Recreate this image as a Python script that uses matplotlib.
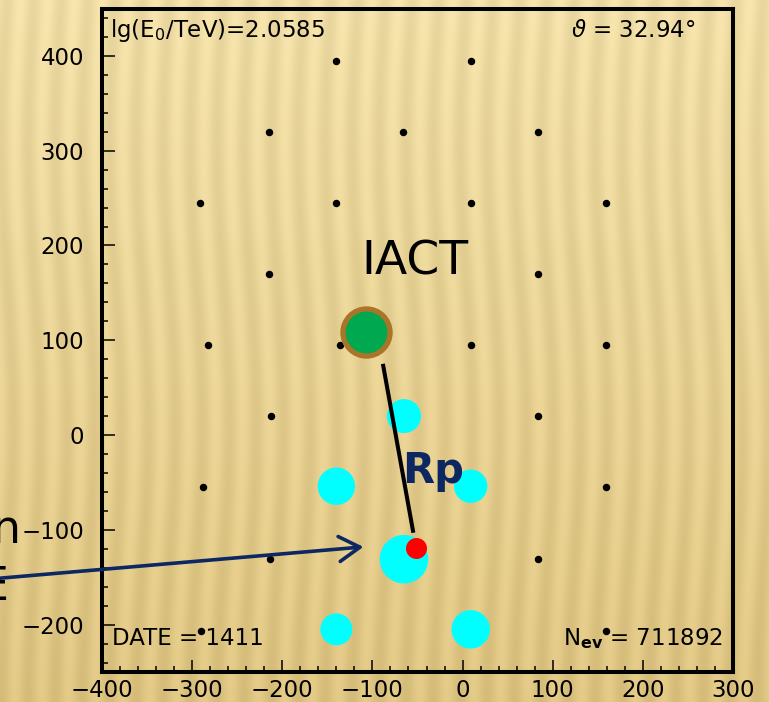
import numpy as np
import matplotlib
matplotlib.use("Agg")
import matplotlib.pyplot as plt

# detector stations (small black dots), x/y in m
det_x = [-140, 9,
         -215, -66, 84,
         -291, -140, 9, 159,
         -215, 84,
         -282, -136, 9, 159,
         -212, 84,
         -288, 159,
         -214, 84,
         -290, 159]
det_y = [395, 395,
         320, 320, 320,
         245, 245, 245, 245,
         170, 170,
         95, 95, 95, 95,
         20, 20,
         -55, -55,
         -131, -131,
         -207, -207]

# fired stations (cyan), marker radius ~ signal
hit_x = [-65, -140, 9, -65, -140, 9]
hit_y = [20, -54, -54, -131, -205, -205]
hit_sig = [17, 18.7, 16.7, 24.3, 16, 19.2]

core_x, core_y = [-52], [-119]        # reconstructed core (red)
iact_x, iact_y = [-107], [109]        # IACT position (green)
rp_x = [-88, -55]                     # Rp segment
rp_y = [73, -101]

lg_e0 = 2.0585
theta = 32.94
date = 1411
n_ev = 711892

W, H, DPI = 769, 702, 100
fig = plt.figure(figsize=(W / DPI, H / DPI), dpi=DPI)

# slide background: warm gold gradient with soft vertical stripes
bg = fig.add_axes([0, 0, 1, 1])
yy, xx = np.mgrid[0:H, 0:W]
top = np.array([244, 226, 170]) / 255
bot = np.array([225, 199, 132]) / 255
t = (yy / H)[..., None]
img = top * (1 - t) + bot * t
stripe = 0.03 * np.sin(2 * np.pi * (xx + 6 * np.sin(yy / 90)) / 27.0)
img = np.clip(img - stripe[..., None] - 0.015, 0, 1)
bg.imshow(img, aspect="auto", extent=[0, 1, 0, 1])
bg.axis("off")

ax = fig.add_axes([102 / W, 1 - 672 / H, 631 / W, 663.5 / H])
ax.patch.set_alpha(0)
ax.set_xlim(-400, 300)
ax.set_ylim(-250, 450)

for sp in ax.spines.values():
    sp.set_linewidth(2.9)
ax.set_xticks(np.arange(-400, 301, 100))
ax.set_yticks(np.arange(-200, 401, 100))
ax.set_xticks(np.arange(-400, 301, 20), minor=True)
ax.set_yticks(np.arange(-240, 451, 20), minor=True)
ax.tick_params(which="both", direction="in", top=False, right=False, width=1.1)
ax.tick_params(which="major", length=9, labelsize=16.5)
ax.tick_params(which="minor", length=4.5)
ax.tick_params(axis="y", which="major", pad=13)
ax.tick_params(axis="x", which="major", pad=5)

navy = "#0c2762"

ax.scatter(det_x, det_y, s=19, color="black", zorder=2)
ax.scatter(hit_x, hit_y, s=[(1.44 * r) ** 2 for r in hit_sig],
           color="#00ffff", linewidths=0, zorder=3)
ax.plot(rp_x, rp_y, color="black", lw=2.9, zorder=4)
ax.scatter(core_x, core_y, s=(1.44 * 10.5) ** 2, color="#ff0000",
           linewidths=0, zorder=5)
ax.scatter(iact_x, iact_y, s=1150, color="#00a84f", edgecolors="#aa7528",
           linewidths=3.8, zorder=5)

ax.text(-53, 169, "IACT", fontsize=34, ha="center", va="baseline", zorder=6)
ax.text(-67, -51, "Rp", fontsize=30, fontweight="bold", color=navy,
        ha="left", va="baseline", zorder=6)

ax.annotate("", xy=(-110, -118), xytext=(-525, -152),
            arrowprops=dict(arrowstyle="->,head_length=0.5,head_width=0.3",
                            color=navy, lw=2.6, mutation_scale=30,
                            shrinkA=0, shrinkB=0),
            annotation_clip=False, zorder=6)

ax.text(0.0127, 0.957, r"lg(E$_0$/TeV)=%.4f" % lg_e0, transform=ax.transAxes,
        fontsize=16.5, ha="left", va="baseline")
ax.text(0.94, 0.957, r"$\vartheta$ = %.2f°" % theta, transform=ax.transAxes,
        fontsize=16.5, ha="right", va="baseline")
ax.text(0.0158, 0.0407, "DATE = %d" % date, transform=ax.transAxes,
        fontsize=16.5, ha="left", va="baseline")
ax.text(0.984, 0.0407, r"N$_{\mathbf{ev}}$ = %d" % n_ev, transform=ax.transAxes,
        fontsize=16.5, ha="right", va="baseline")

# cut-off slide text at the left edge (partly outside the picture, as in the slide)
fig.text(21 / W, 1 - 543 / H, "n", fontsize=33, ha="right", va="baseline")
fig.text(8 / W, 1 - 600 / H, "E", fontsize=33, ha="right", va="baseline")

fig.savefig("out.png", dpi=DPI)
